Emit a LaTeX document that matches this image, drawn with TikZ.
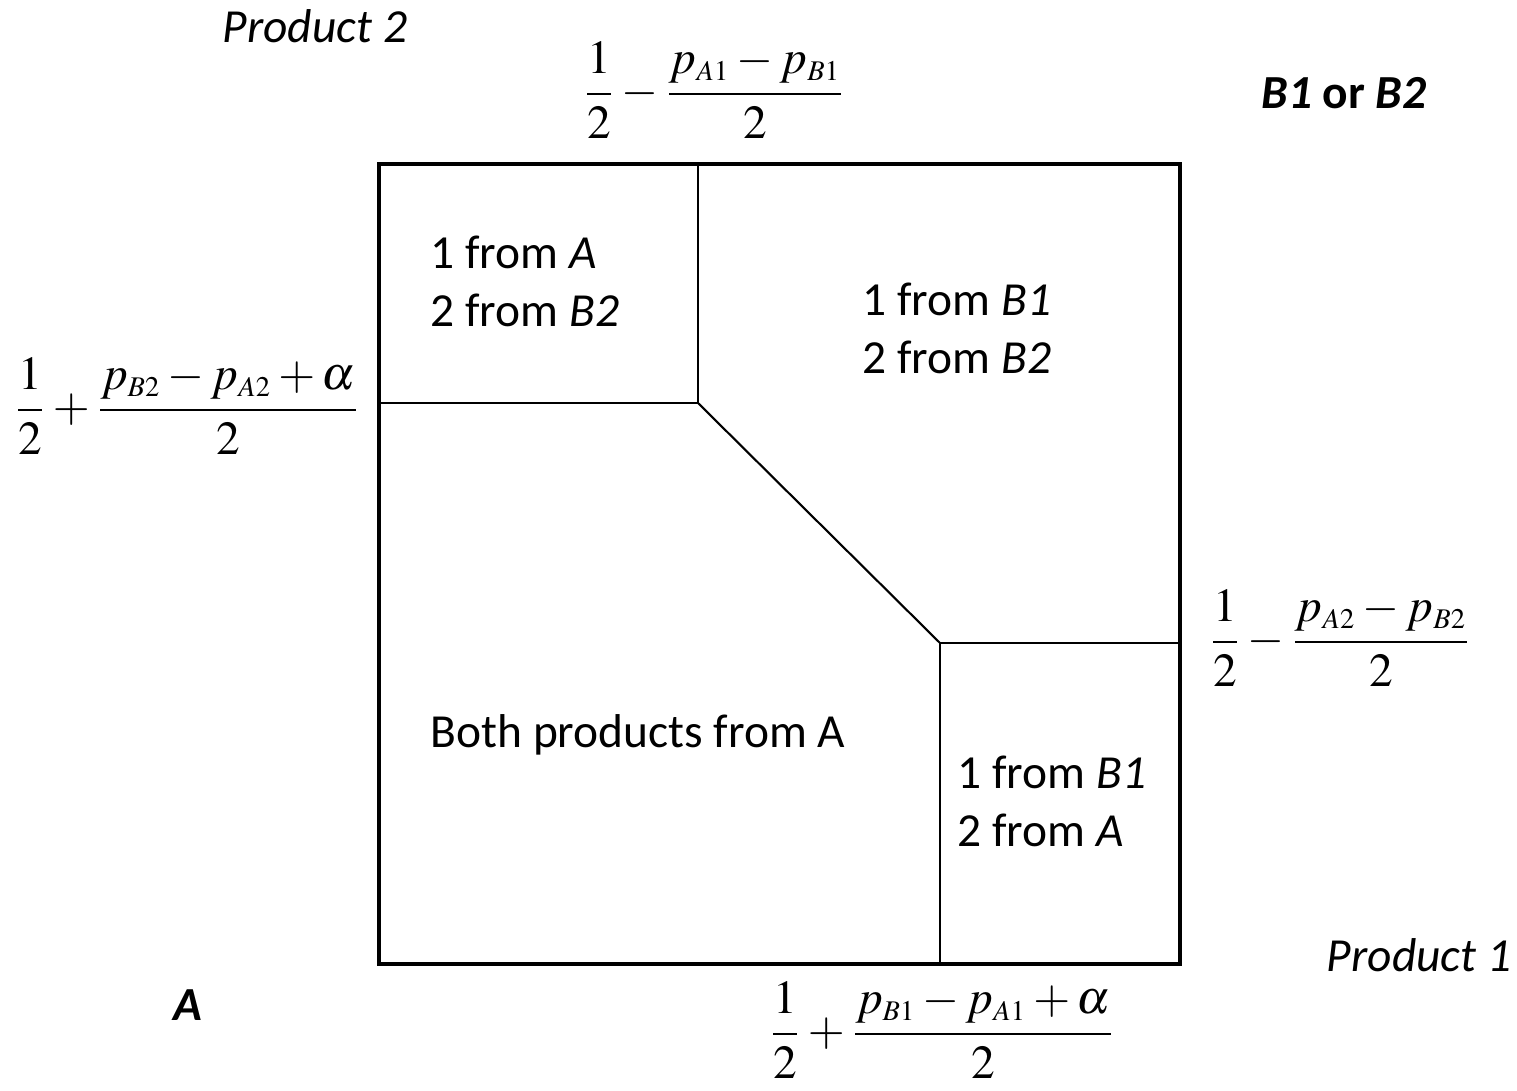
\documentclass[tikz,border=0pt]{standalone}
\usepackage{mathptmx}
\usepackage[no-math]{fontspec}
\setmainfont{Carlito}
\usetikzlibrary{positioning}
\newcommand{\price}[1]{p_{\scriptscriptstyle #1}}
\tikzset{
	region/.style  ={rectangle, inner sep=0pt, align=left, anchor=west, font=\fontsize{13.5}{16.5}\selectfont},
	axislbl/.style ={inner sep=0pt, font=\fontsize{13.5}{16.5}\selectfont\itshape},
	firmlbl/.style ={inner sep=0pt, font=\fontsize{13.5}{16.5}\selectfont\bfseries},
	bound/.style   ={inner sep=0pt, font=\fontsize{13.5}{16}\selectfont},
	outerbox/.style={line width=1.15pt},
	partline/.style={line width=0.6pt},
}

\begin{document}
\begin{tikzpicture}[x=0.1mm, y=-0.1mm]
	\useasboundingbox (0,0) rectangle (1517,1090);
	\coordinate (sw) at (379,964);
	\coordinate (ne) at (1180,164);
	\coordinate (knee1) at (698,403);
	\coordinate (knee2) at (940,643);
	\draw[outerbox] (sw) rectangle (ne);
	\draw[partline] (knee1 |- ne) -- (knee1) -- (knee1 -| sw);
	\draw[partline] (knee1) -- (knee2);
	\draw[partline] (knee2 -| ne) -- (knee2) -- (knee2 |- sw);
	\node[axislbl] (prodtwo) at (315,26) {Product 2};
	\node[axislbl] (prodone) at (1419,955) {Product 1};
	\node[firmlbl] (firmb) at (1344,93) {\textit{B1} or \textit{B2}};
	\node[firmlbl] (firma) at (188,1005) {\textit{A}};
	\node[region] (aboveb) at (430,281) {1 from \textit{A}\\2 from \textit{B2}};
	\node[region] (bothb) at (862,328) {1 from \textit{B1}\\2 from \textit{B2}};
	\node[region] (botha) at (430,735) {Both products from A};
	\node[region] (belowa) at (957,801) {1 from \textit{B1}\\2 from \textit{A}};
	\node[bound] (topb) at (714,90) {$\displaystyle \frac{1}{2}-\frac{\price{A1}-\price{B1}}{2}$};
	\node[bound] (leftb) at (187,406) {$\displaystyle \frac{1}{2}+\frac{\price{B2}-\price{A2}+\alpha}{2}$};
	\node[bound] (rightb) at (1340,638) {$\displaystyle \frac{1}{2}-\frac{\price{A2}-\price{B2}}{2}$};
	\node[bound] (botb) at (942,1030) {$\displaystyle \frac{1}{2}+\frac{\price{B1}-\price{A1}+\alpha}{2}$};
\end{tikzpicture}
\end{document}
